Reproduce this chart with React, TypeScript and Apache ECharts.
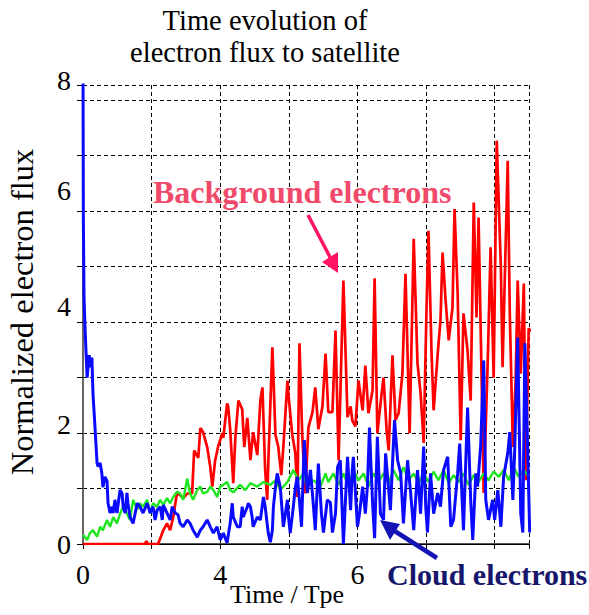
import React, { useEffect, useRef } from "react";
import * as echarts from "echarts";

// Background electrons (red)
const bgTime = [0, 1.81, 1.84, 1.9, 2.19, 2.34, 2.45, 2.54, 2.63, 2.74, 2.83, 2.92, 3.04, 3.18, 3.24, 3.36, 3.42, 3.5, 3.62, 3.71, 3.77, 3.85, 3.94, 4.06, 4.09, 4.2, 4.23, 4.29, 4.38, 4.44, 4.53, 4.64, 4.7, 4.79, 4.88, 4.96, 5.08, 5.17, 5.23, 5.31, 5.37, 5.4, 5.52, 5.61, 5.69, 5.78, 5.84, 5.96, 5.99, 6.1, 6.19, 6.25, 6.31, 6.39, 6.48, 6.57, 6.69, 6.77, 6.86, 6.98, 7.07, 7.15, 7.27, 7.36, 7.45, 7.59, 7.71, 7.8, 7.85, 7.94, 8.03, 8.15, 8.23, 8.32, 8.44, 8.5, 8.58, 8.7, 8.76, 8.85, 8.91, 9.02, 9.11, 9.2, 9.31, 9.4, 9.52, 9.64, 9.75, 9.84, 9.93, 10.01, 10.07, 10.16, 10.22, 10.34, 10.42, 10.48, 10.57, 10.66, 10.77, 10.83, 10.92, 11.01, 11.09, 11.21, 11.3, 11.39, 11.47, 11.53, 11.62, 11.68, 11.8, 11.88, 11.97, 12.06, 12.18, 12.23, 12.38, 12.44, 12.53, 12.61, 12.67, 12.76, 12.85, 12.91, 12.99, 13.05];
const bgFlux = [0, 0, 0.05, 0, 0, 0.24, 0.36, 0.24, 0.47, 0.89, 0.85, 0.8, 0.88, 0.88, 1.63, 1.5, 2.02, 1.95, 1.69, 1.34, 1.0, 1.45, 1.7, 1.93, 1.85, 2.45, 2.4, 2.0, 1.06, 1.85, 2.5, 2.35, 1.69, 2.2, 1.46, 1.95, 1.55, 2.5, 2.73, 1.29, 0.77, 1.4, 3.43, 1.9, 1.7, 1.2, 1.7, 2.85, 2.6, 1.9, 1.58, 0.82, 3.5, 1.9, 0.88, 2.03, 2.3, 2.73, 2.0, 2.4, 3.32, 2.3, 2.3, 3.72, 1.46, 4.59, 2.21, 2.4, 2.15, 2.05, 2.85, 2.33, 3.11, 2.28, 2.68, 4.63, 1.93, 2.6, 2.9, 1.98, 1.63, 3.29, 2.16, 2.28, 2.97, 4.71, 1.93, 5.32, 3.15, 2.63, 1.76, 4.02, 5.46, 3.32, 2.33, 3.32, 3.9, 5.08, 4.24, 3.55, 4.12, 5.84, 4.37, 1.81, 4.02, 3.37, 2.5, 5.95, 3.95, 5.69, 2.85, 0.89, 3.25, 5.17, 2.9, 7.03, 4.82, 3.08, 6.68, 4.02, 1.69, 2.85, 4.59, 2.97, 4.54, 1.11, 3.76, 3.7];

// Cloud electrons (blue)
const cloudTime = [0, 0.01, 0.03, 0.06, 0.12, 0.18, 0.23, 0.26, 0.29, 0.35, 0.41, 0.44, 0.5, 0.55, 0.58, 0.64, 0.7, 0.73, 0.79, 0.85, 0.88, 0.93, 0.99, 1.08, 1.14, 1.17, 1.23, 1.28, 1.31, 1.37, 1.46, 1.58, 1.66, 1.75, 1.87, 1.96, 2.04, 2.1, 2.16, 2.25, 2.31, 2.34, 2.45, 2.54, 2.6, 2.69, 2.77, 2.83, 2.92, 3.04, 3.12, 3.21, 3.33, 3.42, 3.5, 3.62, 3.71, 3.8, 3.91, 4.0, 4.09, 4.2, 4.29, 4.35, 4.38, 4.5, 4.58, 4.64, 4.67, 4.79, 4.82, 4.88, 4.93, 4.96, 5.08, 5.17, 5.26, 5.31, 5.4, 5.46, 5.52, 5.55, 5.61, 5.66, 5.75, 5.81, 5.84, 5.96, 5.99, 6.04, 6.13, 6.19, 6.25, 6.34, 6.37, 6.45, 6.54, 6.63, 6.72, 6.77, 6.86, 6.95, 7.01, 7.12, 7.21, 7.27, 7.36, 7.42, 7.5, 7.59, 7.71, 7.8, 7.85, 7.88, 8.0, 8.06, 8.15, 8.23, 8.29, 8.35, 8.44, 8.5, 8.58, 8.67, 8.76, 8.82, 8.96, 9.08, 9.17, 9.26, 9.34, 9.46, 9.55, 9.64, 9.75, 9.84, 9.93, 9.99, 10.04, 10.13, 10.22, 10.34, 10.42, 10.51, 10.63, 10.72, 10.8, 10.92, 10.98, 11.09, 11.21, 11.3, 11.36, 11.45, 11.5, 11.59, 11.68, 11.74, 11.82, 11.94, 12.0, 12.09, 12.18, 12.26, 12.38, 12.44, 12.53, 12.58, 12.67, 12.76, 12.82, 12.88, 12.96, 13.02];
const cloudFlux = [8.5, 5.7, 4.3, 3.75, 2.9, 3.29, 3.08, 3.25, 2.63, 2.03, 1.41, 1.35, 1.41, 1.23, 0.99, 1.17, 1.1, 0.71, 0.54, 0.65, 0.54, 0.77, 0.54, 0.94, 0.88, 0.65, 0.54, 0.89, 0.71, 0.47, 0.36, 0.71, 0.65, 0.54, 0.71, 0.54, 0.65, 0.42, 0.59, 0.65, 0.42, 0.68, 0.54, 0.42, 0.65, 0.54, 0.51, 0.36, 0.3, 0.42, 0.36, 0.24, 0.12, 0.24, 0.3, 0.42, 0.3, 0.19, 0.3, 0.07, 0.19, 0.02, 0.36, 0.71, 0.47, 0.3, 0.3, 0.65, 0.47, 0.65, 0.71, 0.65, 0.47, 0.3, 0.47, 0.42, 0.82, 0.65, 0.19, 0.03, 0.24, 0.65, 0.99, 1.23, 0.99, 0.53, 0.3, 0.77, 0.47, 0.19, 0.65, 0.99, 1.17, 0.53, 0.3, 1.81, 0.89, 1.29, 0.64, 0.24, 1.4, 0.53, 0.2, 0.77, 0.72, 0.2, 0.53, 1.34, 1.46, 0.0, 1.52, 0.59, 1.29, 1.52, 0.3, 0.53, 1.0, 0.53, 1.0, 2.03, 0.71, 0.1, 1.87, 0.53, 0.42, 1.58, 0.59, 2.16, 1.46, 1.23, 0.36, 1.46, 0.89, 0.24, 1.29, 0.53, 1.7, 0.65, 0.2, 1.23, 0.53, 0.89, 0.65, 1.29, 1.52, 0.3, 0.42, 1.23, 1.75, 0.24, 2.38, 0.77, 0.07, 1.23, 1.0, 1.7, 3.2, 0.77, 0.42, 0.77, 0.42, 0.94, 0.3, 1.17, 1.58, 1.95, 0.77, 1.58, 3.6, 0.53, 0.2, 3.5, 1.7, 0.2];

// Third curve (green)
const greenTime = [0, 0.12, 0.2, 0.29, 0.41, 0.5, 0.58, 0.7, 0.79, 0.88, 0.99, 1.08, 1.17, 1.28, 1.37, 1.46, 1.58, 1.66, 1.75, 1.87, 1.96, 2.04, 2.16, 2.25, 2.34, 2.45, 2.54, 2.63, 2.74, 2.83, 2.92, 3.04, 3.12, 3.21, 3.33, 3.42, 3.5, 3.62, 3.71, 3.8, 3.91, 4.0, 4.09, 4.2, 4.29, 4.38, 4.58, 4.73, 4.88, 5.08, 5.26, 5.46, 5.61, 5.75, 5.96, 6.13, 6.28, 6.42, 6.54, 6.72, 6.92, 7.07, 7.15, 7.3, 7.45, 7.59, 7.74, 7.88, 8.03, 8.18, 8.32, 8.47, 8.61, 8.76, 8.91, 9.05, 9.2, 9.34, 9.49, 9.64, 9.78, 9.93, 10.07, 10.22, 10.36, 10.51, 10.66, 10.8, 10.95, 11.09, 11.24, 11.39, 11.53, 11.68, 11.82, 11.97, 12.12, 12.26, 12.41, 12.55, 12.7, 12.85, 12.99];
const greenFlux = [0.16, 0.07, 0.19, 0.24, 0.13, 0.3, 0.24, 0.42, 0.3, 0.47, 0.36, 0.53, 0.65, 0.53, 0.42, 0.77, 0.6, 0.71, 0.65, 0.77, 0.53, 0.71, 0.65, 0.77, 0.68, 0.8, 0.71, 0.82, 0.91, 0.88, 0.77, 1.14, 0.88, 0.77, 0.94, 1.0, 0.88, 0.91, 1.0, 0.94, 0.82, 1.0, 1.03, 1.08, 0.94, 0.9, 1.03, 0.94, 1.06, 1.0, 1.08, 1.03, 1.11, 0.94, 1.08, 1.29, 1.11, 1.23, 0.99, 1.11, 1.0, 1.23, 1.08, 1.23, 1.03, 1.23, 1.0, 1.29, 1.11, 1.23, 1.0, 1.23, 1.08, 1.23, 1.06, 1.29, 1.11, 1.34, 1.11, 1.23, 1.06, 1.23, 1.08, 1.26, 1.11, 1.29, 1.06, 1.2, 1.08, 1.23, 1.03, 1.2, 1.08, 1.23, 1.11, 1.26, 1.17, 1.29, 1.11, 1.34, 1.17, 1.29, 1.17];

// Axis tick labels as printed on the figure (value -> text)
const xTickLabels: Record<number, string> = { 0: "0", 4: "4", 8: "6" };
const yTicks = [0, 2, 4, 6, 8];

const SERIF = "'Liberation Serif', 'Times New Roman', Times, serif";

function zip(t: number[], v: number[]) {
  return t.map((x, i) => [x, v[i]]);
}

const yLabelRich = {
  y0: { fontSize: 28, fontFamily: SERIF, color: "#000", padding: [0, 0, 0, 0] },
  y2: { fontSize: 28, fontFamily: SERIF, color: "#000", padding: [0, 0, 10, 0] },
  y4: { fontSize: 28, fontFamily: SERIF, color: "#000", padding: [0, 0, 16, 0] },
  y6: { fontSize: 28, fontFamily: SERIF, color: "#000", padding: [0, 0, 18, 0] },
  y8: { fontSize: 28, fontFamily: SERIF, color: "#000", padding: [0, 0, 10, 0] },
};

export default function App() {
  const ref = useRef<HTMLDivElement>(null);
  useEffect(() => {
    if (!ref.current) return;
    const chart = echarts.init(ref.current, undefined, { renderer: "svg" });
    chart.setOption({
      animation: false,
      backgroundColor: "#ffffff",
      grid: { left: 83, right: 60, top: 85, bottom: 71 },
      xAxis: [
        {
          type: "value",
          min: 0,
          max: 13,
          interval: 2,
          position: "bottom",
          axisLine: { show: true, lineStyle: { color: "#555", width: 2 } },
          axisTick: { show: false },
          splitLine: { show: true, lineStyle: { color: "#000", width: 1, type: [4, 3] } },
          axisLabel: {
            show: true,
            margin: 16,
            color: "#000",
            fontSize: 28,
            fontFamily: SERIF,
            formatter: (v: number) => xTickLabels[v] ?? "",
          },
        },
        {
          type: "value",
          min: 0,
          max: 13,
          interval: 2,
          position: "top",
          axisLine: { show: true, lineStyle: { color: "#000", width: 1 } },
          axisTick: { show: true, inside: true, length: 5, lineStyle: { color: "#000" } },
          splitLine: { show: false },
          axisLabel: { show: false },
        },
      ],
      yAxis: [
        {
          type: "value",
          min: 0,
          max: 8,
          interval: 2,
          position: "left",
          axisLine: { show: true, lineStyle: { color: "#8888ff", width: 1 } },
          axisTick: { show: false },
          splitLine: { show: false },
          axisLabel: {
            show: true,
            margin: 12,
            color: "#000",
            fontSize: 28,
            fontFamily: SERIF,
            formatter: (v: number) => (yTicks.includes(v) ? `{y${v}|${v}}` : ""),
            rich: yLabelRich,
          },
        },
        {
          type: "value",
          min: 0,
          max: 8.27,
          interval: 1,
          position: "right",
          axisLine: { show: true, lineStyle: { color: "#666", width: 2 } },
          axisTick: { show: true, inside: true, length: 6, lineStyle: { color: "#000" } },
          splitLine: { show: true, lineStyle: { color: "#000", width: 1, type: [4, 3] } },
          axisLabel: { show: false },
        },
      ],
      series: [
        {
          name: "Background electrons",
          type: "line",
          xAxisIndex: 0,
          yAxisIndex: 0,
          data: zip(bgTime, bgFlux),
          showSymbol: false,
          lineStyle: { color: "#ff0000", width: 2.7 },
          itemStyle: { color: "#ff0000" },
          clip: true,
        },
        {
          name: "Total",
          type: "line",
          xAxisIndex: 0,
          yAxisIndex: 0,
          data: zip(greenTime, greenFlux),
          showSymbol: false,
          lineStyle: { color: "#1ee61e", width: 2.4 },
          itemStyle: { color: "#1ee61e" },
          clip: true,
        },
        {
          name: "Cloud electrons",
          type: "line",
          xAxisIndex: 0,
          yAxisIndex: 0,
          data: zip(cloudTime, cloudFlux),
          showSymbol: false,
          lineStyle: { color: "#0a0aff", width: 3 },
          itemStyle: { color: "#0a0aff" },
          clip: true,
        },
      ],
      graphic: [
        {
          type: "text",
          x: 265,
          y: 20.5,
          style: { text: "Time evolution of", fill: "#000", fontSize: 28.5, fontFamily: SERIF, textAlign: "center", textVerticalAlign: "middle" },
        },
        {
          type: "text",
          x: 265,
          y: 52.5,
          style: { text: "electron flux to satellite", fill: "#000", fontSize: 28.5, fontFamily: SERIF, textAlign: "center", textVerticalAlign: "middle" },
        },
        {
          type: "text",
          x: 22,
          y: 312,
          rotation: Math.PI / 2,
          style: { text: "Normalized electron flux", fill: "#000", fontSize: 32.5, fontFamily: SERIF, textAlign: "center", textVerticalAlign: "middle" },
        },
        {
          type: "text",
          x: 287,
          y: 594,
          style: { text: "Time / Tpe", fill: "#000", fontSize: 26, fontFamily: SERIF, textAlign: "center", textVerticalAlign: "middle" },
        },
        {
          type: "text",
          x: 153,
          y: 192,
          z: 10,
          style: { text: "Background electrons", fill: "#f04a6a", fontSize: 32, fontWeight: "bold", fontFamily: SERIF, textAlign: "left", textVerticalAlign: "middle" },
        },
        {
          type: "line",
          z: 10,
          shape: { x1: 308, y1: 215, x2: 331, y2: 259 },
          style: { stroke: "#ff1466", lineWidth: 3.5 },
        },
        {
          type: "polygon",
          z: 10,
          shape: { points: [[322, 262], [338, 252], [338, 273]] },
          style: { fill: "#ff1466" },
        },
        {
          type: "text",
          x: 387,
          y: 574,
          z: 10,
          style: { text: "Cloud electrons", fill: "#16166b", fontSize: 30, fontWeight: "bold", fontFamily: SERIF, textAlign: "left", textVerticalAlign: "middle" },
        },
        {
          type: "line",
          z: 10,
          shape: { x1: 437, y1: 558, x2: 393, y2: 530 },
          style: { stroke: "#1414b4", lineWidth: 4.5 },
        },
        {
          type: "polygon",
          z: 10,
          shape: { points: [[380, 520], [400, 524], [390, 540]] },
          style: { fill: "#1414b4" },
        },
      ],
    });
    return () => chart.dispose();
  }, []);
  return (
    <div
      ref={ref}
      style={{ position: "fixed", left: 0, top: 0, width: 589, height: 615, background: "#fff" }}
    />
  );
}
